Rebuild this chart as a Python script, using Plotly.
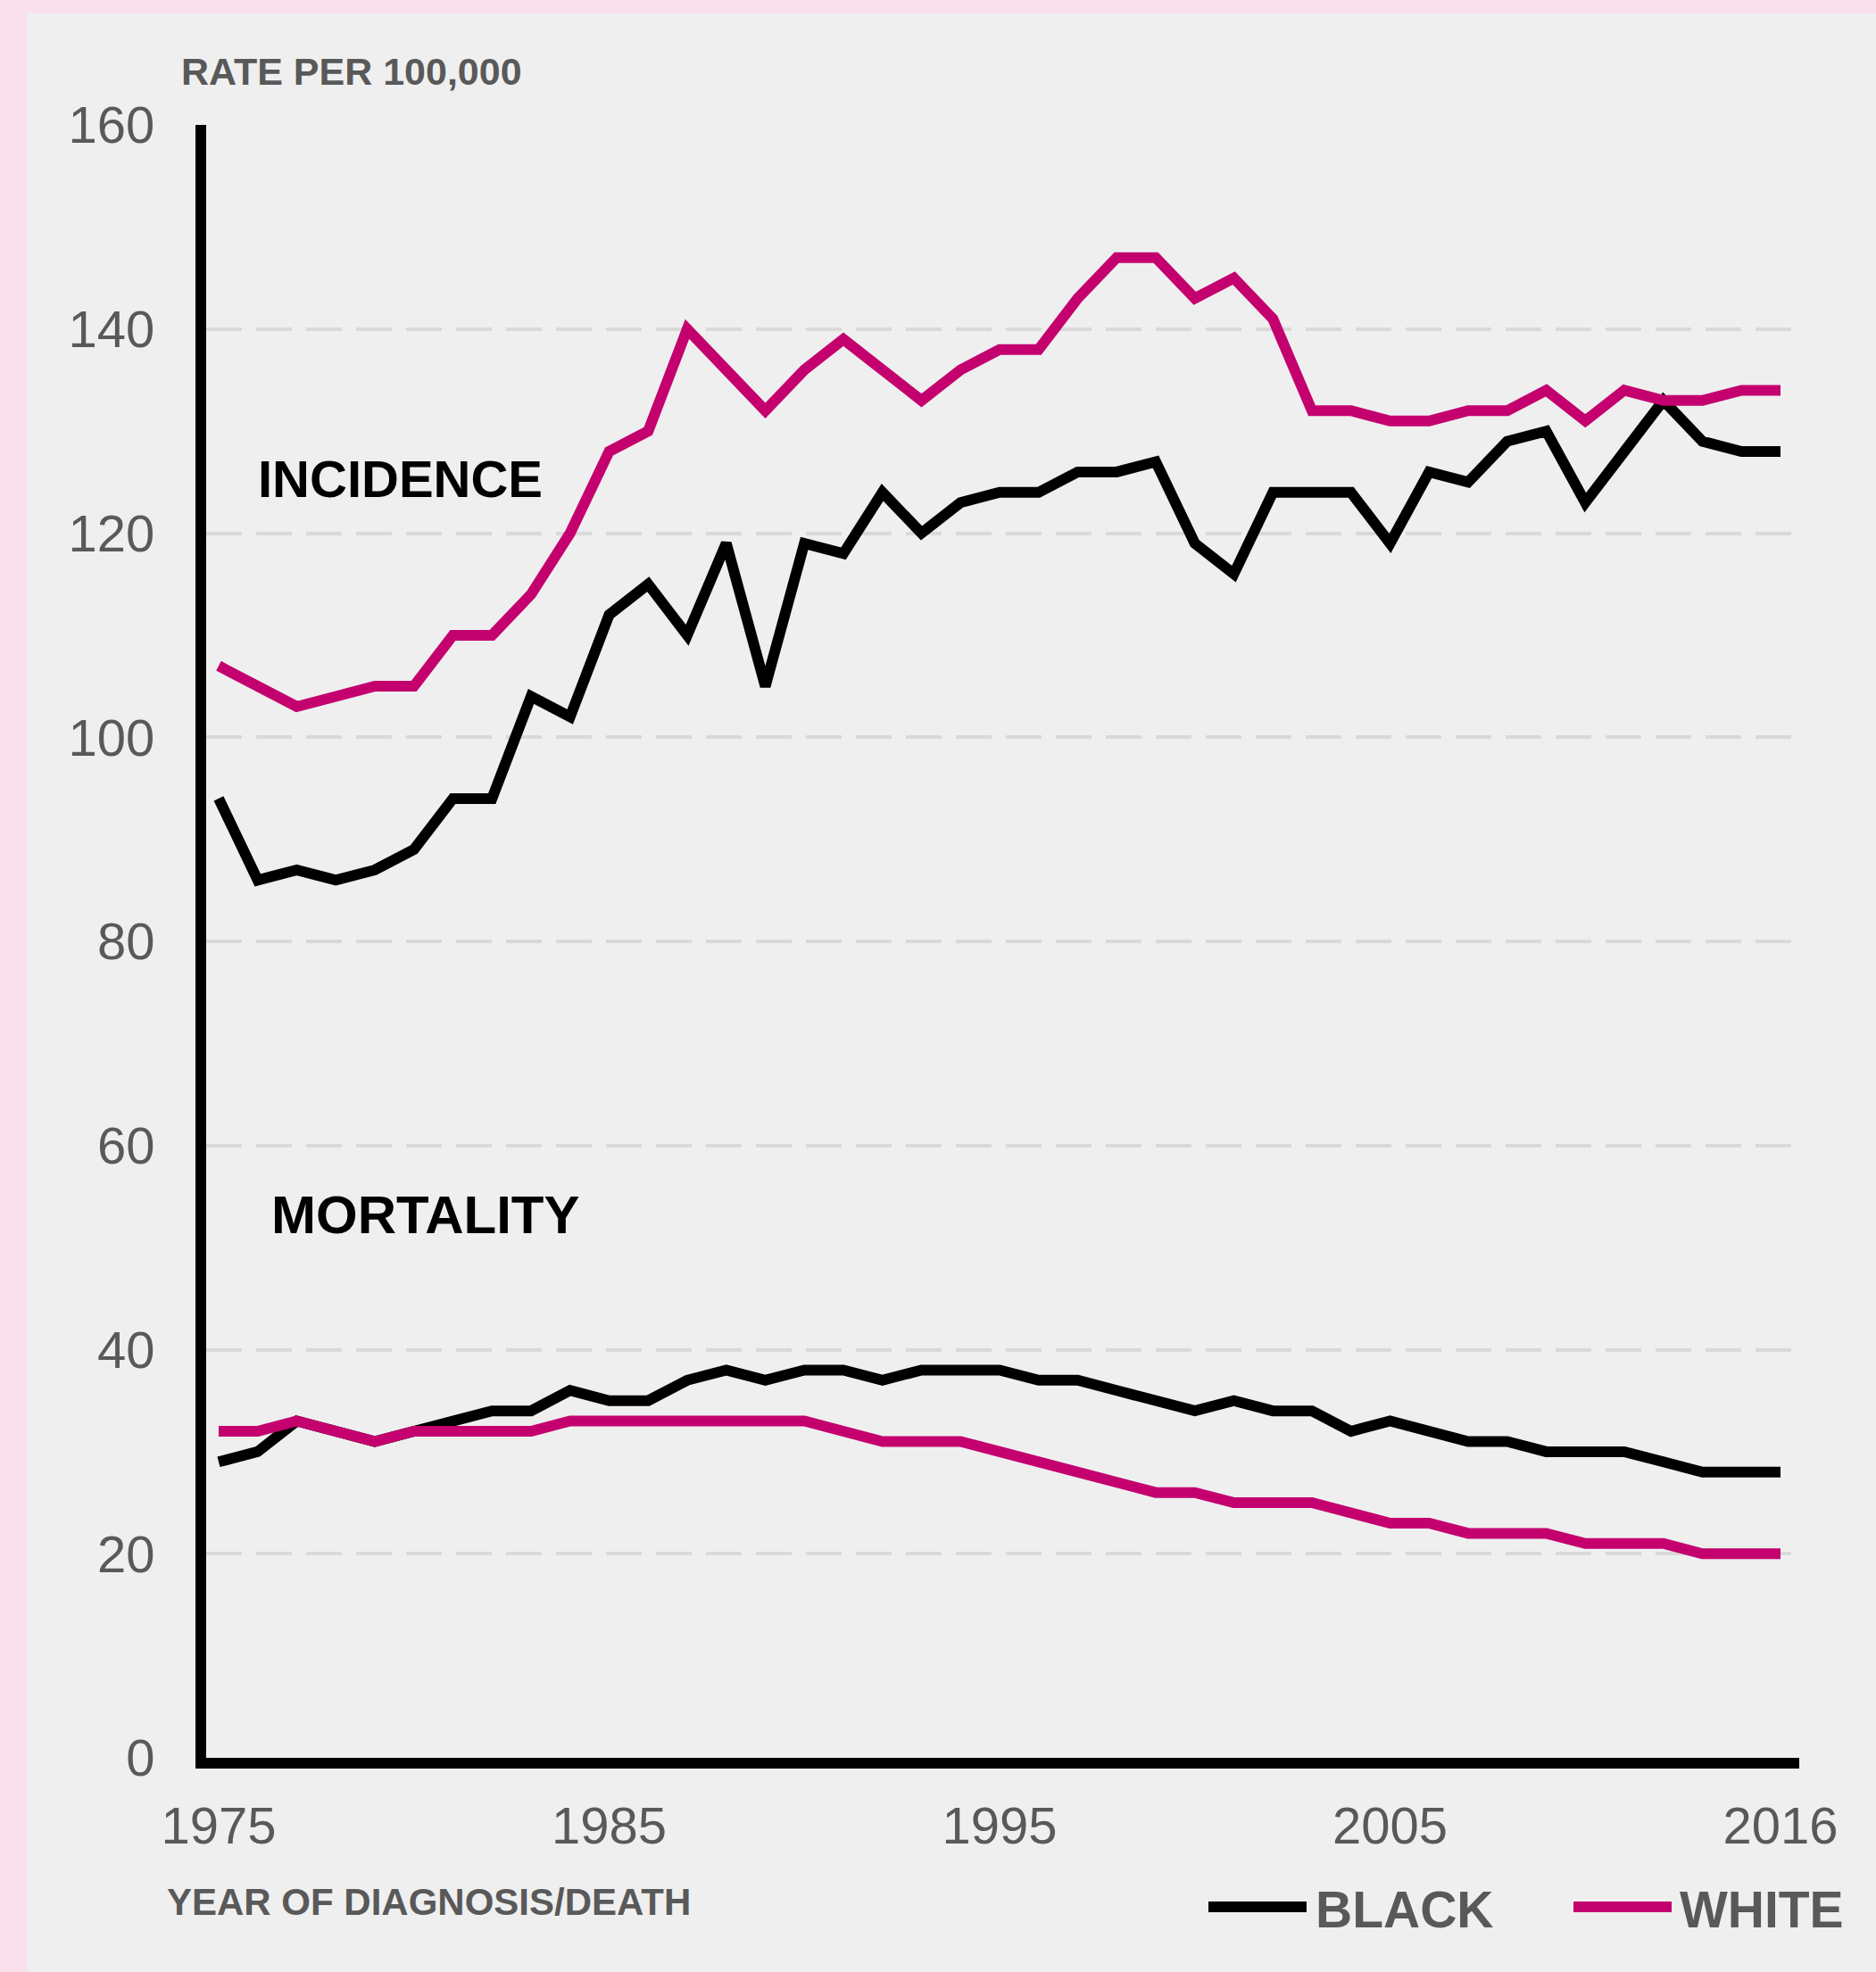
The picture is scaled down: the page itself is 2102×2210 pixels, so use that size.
import plotly.graph_objects as go

# ---------------- data ----------------
# 41 plotted points; the reference labels the last category "2016"
years = list(range(1975, 2016))
tick_years = [1975, 1985, 1995, 2005, 2015]
tick_labels = ["1975", "1985", "1995", "2005", "2016"]
y_ticks = [0, 20, 40, 60, 80, 100, 120, 140, 160]

black_incidence = [94, 86, 87, 86, 87, 89, 94, 94, 104, 102, 112, 115, 110, 119,
                   105, 119, 118, 124, 120, 123, 124, 124, 126, 126, 127, 119,
                   116, 124, 124, 124, 119, 126, 125, 129, 130, 123, 128, 133,
                   129, 128, 128]
white_incidence = [107, 105, 103, 104, 105, 105, 110, 110, 114, 120, 128, 130,
                   140, 136, 132, 136, 139, 136, 133, 136, 138, 138, 143, 147,
                   147, 143, 145, 141, 132, 132, 131, 131, 132, 132, 134, 131,
                   134, 133, 133, 134, 134]
black_mortality = [29, 30, 33, 32, 31, 32, 33, 34, 34, 36, 35, 35, 37, 38, 37,
                   38, 38, 37, 38, 38, 38, 37, 37, 36, 35, 34, 35, 34, 34, 32,
                   33, 32, 31, 31, 30, 30, 30, 29, 28, 28, 28]
white_mortality = [32, 32, 33, 32, 31, 32, 32, 32, 32, 33, 33, 33, 33, 33, 33,
                   33, 32, 31, 31, 31, 30, 29, 28, 27, 26, 26, 25, 25, 25, 24,
                   23, 23, 22, 22, 22, 21, 21, 21, 20, 20, 20]

series_names = ["BLACK", "WHITE"]
label_incidence = "INCIDENCE"
label_mortality = "MORTALITY"
y_title = "RATE PER 100,000"
x_title = "YEAR OF DIAGNOSIS/DEATH"

# ---------------- styles ----------------
BLACK = "#000000"
PINK = "#C4006F"
GRAY_TXT = "#595959"
PANEL = "#EFEFEF"
BORDER = "#FAE0EC"
FONT = "Liberation Sans, Arial, Helvetica, sans-serif"
LW = 12

W, H = 2102, 2210
L, R, T, B = 231, 2016, 140, 1970   # plot area in pixels
PW, PH = R - L, B - T


def px(x):
    return (x - L) / PW


def py(y):
    return (B - y) / PH


fig = go.Figure()

for name, ys, color in [
    ("BLACK incidence", black_incidence, BLACK),
    ("BLACK mortality", black_mortality, BLACK),
    ("WHITE incidence", white_incidence, PINK),
    ("WHITE mortality", white_mortality, PINK),
]:
    fig.add_trace(go.Scatter(
        x=years, y=ys, mode="lines", name=name, showlegend=False,
        line=dict(color=color, width=LW),
    ))

annotations = [
    dict(text=label_incidence, x=1975.95, y=125.3, xref="x", yref="y",
         xanchor="left", yanchor="middle", showarrow=False,
         font=dict(family=FONT, size=58, color=BLACK, weight="bold")),
    dict(text=label_mortality, x=1976.3, y=53.2, xref="x", yref="y",
         xanchor="left", yanchor="middle", showarrow=False,
         font=dict(family=FONT, size=60, color=BLACK, weight="bold")),
    dict(text=y_title, x=px(201), y=py(80), xref="paper", yref="paper",
         xanchor="left", yanchor="middle", showarrow=False,
         font=dict(family=FONT, size=43, color=GRAY_TXT, weight="bold")),
    dict(text=x_title, x=px(185), y=py(2131), xref="paper", yref="paper",
         xanchor="left", yanchor="middle", showarrow=False,
         font=dict(family=FONT, size=42, color=GRAY_TXT, weight="bold")),
    dict(text=series_names[0], x=px(1472), y=py(2140), xref="paper", yref="paper",
         xanchor="left", yanchor="middle", showarrow=False,
         font=dict(family=FONT, size=57, color=GRAY_TXT, weight="bold")),
    dict(text=series_names[1], x=px(1880), y=py(2140), xref="paper", yref="paper",
         xanchor="left", yanchor="middle", showarrow=False,
         font=dict(family=FONT, size=57, color=GRAY_TXT, weight="bold")),
]

shapes = [
    # grey panel over the pink page border
    dict(type="rect", xref="paper", yref="paper", layer="below",
         x0=px(30), x1=px(W + 20), y0=py(H + 20), y1=py(15),
         fillcolor=PANEL, line=dict(width=0)),
    # legend swatches
    dict(type="line", xref="paper", yref="paper",
         x0=px(1354), x1=px(1464), y0=py(2137), y1=py(2137),
         line=dict(color=BLACK, width=12)),
    dict(type="line", xref="paper", yref="paper",
         x0=px(1763), x1=px(1873), y0=py(2137), y1=py(2137),
         line=dict(color=PINK, width=12)),
]

fig.update_layout(
    width=W, height=H, autosize=False,
    margin=dict(l=L, r=W - R, t=T, b=H - B, pad=0),
    paper_bgcolor=BORDER,
    plot_bgcolor="rgba(0,0,0,0)",
    font=dict(family=FONT, color=GRAY_TXT),
    annotations=annotations,
    shapes=shapes,
    showlegend=False,
)

fig.update_xaxes(
    range=[1974.68, 2015.48],
    tickvals=tick_years, ticktext=tick_labels,
    showgrid=False, zeroline=False,
    showline=True, linecolor=BLACK, linewidth=12,
    ticks="", ticklabelstandoff=14,
    tickfont=dict(family=FONT, size=58, color=GRAY_TXT),
)

fig.update_yaxes(
    range=[0, 160], tickvals=y_ticks,
    showgrid=True, gridcolor="#D9D9D9", gridwidth=3.5, griddash="40px,16px",
    zeroline=False,
    showline=True, linecolor=BLACK, linewidth=12,
    ticks="", ticklabelstandoff=34,
    tickfont=dict(family=FONT, size=58, color=GRAY_TXT),
)

fig.write_html(
    "out.html",
    config={"displayModeBar": False},
    post_script="document.body.style.margin='0';document.body.style.overflow='hidden';",
)
